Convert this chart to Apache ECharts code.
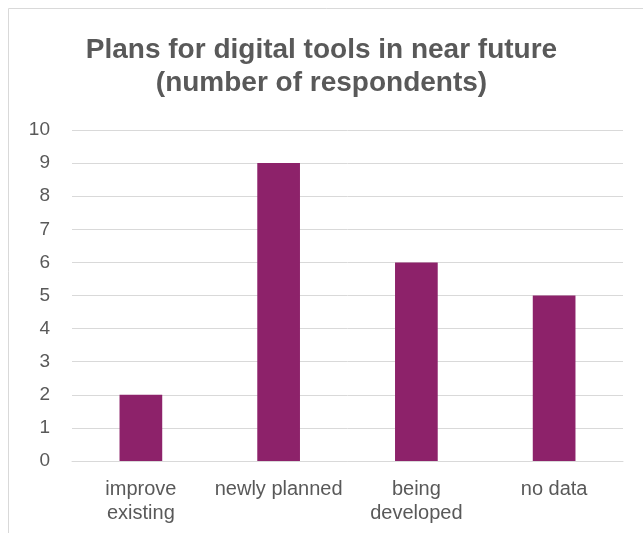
<!DOCTYPE html>
<html><head><meta charset="utf-8">
<script src="https://cdn.jsdelivr.net/npm/echarts@6/dist/echarts.min.js"></script>
<style>html,body{margin:0;padding:0;background:#fff}#c{width:643px;height:533px}</style>
</head><body><div id="c"></div>
<script>
const categories = ['improve\nexisting', 'newly planned', 'being\ndeveloped', 'no data'];
const values = [2, 9, 6, 5];
const yTicks = [0, 10, 1];

const chart = echarts.init(document.getElementById('c'));
chart.setOption({
  animation: false,
  graphic: [{type:'rect', shape:{x:8.5,y:8.5,width:700,height:600}, style:{fill:'none', stroke:'#d9d9d9', lineWidth:1}, z:-1}],
  title: {
    text: 'Plans for digital tools in near future\n(number of respondents)',
    left: 'center', top: 29,
    textStyle: {fontFamily:'Liberation Sans, Arial', fontWeight:'bold', fontSize:28, color:'#595959', lineHeight:33}
  },
  grid: {left: 72, right: 20, top: 130, bottom: 72},
  xAxis: {
    type:'category', data: categories,
    axisLine:{lineStyle:{color:'#d9d9d9'}}, axisTick:{show:false},
    axisLabel:{fontFamily:'Liberation Sans, Arial', fontSize:20, color:'#595959', margin:16, lineHeight:24, interval:0}
  },
  yAxis: {
    type:'value', min:yTicks[0], max:yTicks[1], interval:yTicks[2],
    axisLine:{show:false}, axisTick:{show:false},
    splitLine:{lineStyle:{color:'#d9d9d9'}},
    axisLabel:{fontFamily:'Liberation Sans, Arial', fontSize:19, color:'#595959', margin:22}
  },
  series: [{type:'bar', data: values, barWidth:'31%', itemStyle:{color:'#8d226a'}}]
});
</script></body></html>
